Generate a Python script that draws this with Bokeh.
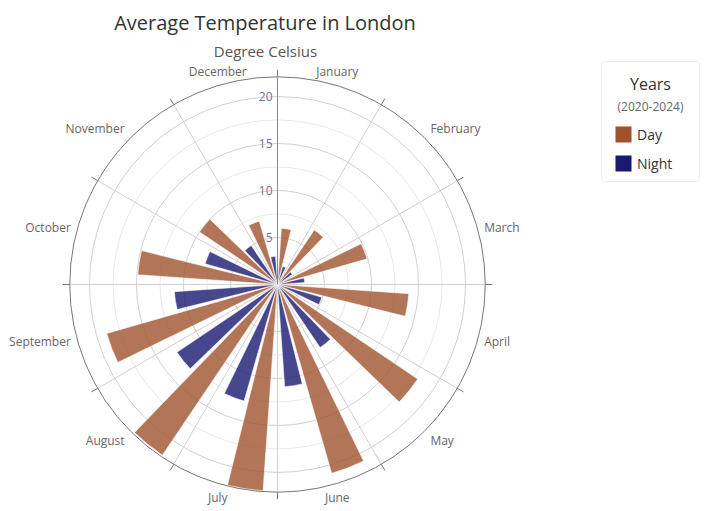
import numpy as np
from bokeh.plotting import figure
from bokeh.models import Range1d, Label, BoxAnnotation, Legend, LegendItem, ColumnDataSource
from bokeh.core.properties import value
from bokeh.embed import file_html
from bokeh.resources import INLINE

# ---------------- data ----------------
months = ["January", "February", "March", "April", "May", "June",
          "July", "August", "September", "October", "November", "December"]
day_temps = [6.0, 7.0, 9.9, 14.0, 18.0, 20.9, 22.0, 21.9, 18.9, 14.9, 10.0, 7.0]
night_temps = [2.0, 1.9, 2.9, 4.9, 8.1, 10.9, 12.9, 12.9, 11.0, 8.0, 5.0, 3.0]
radial_ticks = [5, 10, 15, 20]
radial_minor = [2.5, 7.5, 12.5, 17.5]
radial_max = 22.1
series_names = ["Day", "Night"]
series_colors = ["#a0522d", "#191970"]
chart_title = "Average Temperature in London"
chart_subtitle = "Degree Celsius"
legend_title = "Years"
legend_subtitle = "(2020-2024)"

# ---------------- layout ----------------
W, H = 710, 511
CX, CY = 277, 284          # centre of the polar area in pixels
S = 9.4                    # pixels per degree Celsius
FONT = "Open Sans"


def X(px):
    return (px - CX) / S


def Y(py):
    return (CY - py) / S


p = figure(width=W, height=H, output_backend="svg", toolbar_location=None,
           x_range=Range1d(X(0), X(W)), y_range=Range1d(Y(H), Y(0)),
           x_axis_type=None, y_axis_type=None, min_border=0,
           outline_line_color=None, background_fill_color="white",
           border_fill_color="white")
p.grid.visible = False

# grid circles
p.circle(x=[0] * len(radial_minor), y=[0] * len(radial_minor), radius=radial_minor,
         fill_color=None, line_color="#e8e8e8", line_width=1)
p.circle(x=[0] * len(radial_ticks), y=[0] * len(radial_ticks), radius=radial_ticks,
         fill_color=None, line_color="#d0d0d0", line_width=1)

# angular grid lines (every 30 degrees, clockwise from top)
n = len(months)
sector = 360.0 / n
edges = np.arange(n) * sector
rad = np.deg2rad(edges)
p.segment(x0=0, y0=0, x1=radial_max * np.sin(rad), y1=radial_max * np.cos(rad),
          line_color="#d0d0d0", line_width=1)

# bars
day_centre = edges + sector * 0.3
night_centre = edges + sector * 0.7
half = sector / 6.0
for vals, centres, col in [(day_temps, day_centre, series_colors[0]),
                           (night_temps, night_centre, series_colors[1])]:
    src = ColumnDataSource(dict(r=vals,
                                start=np.deg2rad(90 - (centres + half)),
                                end=np.deg2rad(90 - (centres - half))))
    p.wedge(x=0, y=0, radius="r", start_angle="start", end_angle="end",
            source=src, fill_color=col, fill_alpha=0.8,
            line_color="white", line_width=0.6, line_alpha=0.9)

# outer circle and ticks
p.circle(x=[0], y=[0], radius=[radial_max], fill_color=None, line_color="#777777", line_width=1)
tick_len = 7 / S
p.segment(x0=radial_max * np.sin(rad), y0=radial_max * np.cos(rad),
          x1=(radial_max + tick_len) * np.sin(rad), y1=(radial_max + tick_len) * np.cos(rad),
          line_color="#777777", line_width=1)
# radial axis line
p.segment(x0=[0], y0=[0], x1=[0], y1=[radial_max], line_color="#888888", line_width=1)

# radial tick labels
p.text(x=[X(CX - 5)] * len(radial_ticks), y=radial_ticks, text=[str(t) for t in radial_ticks],
       text_align="right", text_baseline="middle", text_font=value(FONT),
       text_font_size="12px", text_color="#6b7599")

# month labels
mid = np.deg2rad(edges + sector / 2)
sx, cy_ = np.sin(mid), np.cos(mid)
aligns = ["center" if abs(s) < 0.3 else ("left" if s > 0 else "right") for s in sx]
lab_x = radial_max * sx + (6 / S) * np.sign(sx)
lab_y = radial_max * cy_ + (13 / S) * cy_
src_m = ColumnDataSource(dict(x=lab_x, y=lab_y, t=months, a=aligns))
p.text(x="x", y="y", text="t", text_align="a", text_baseline="middle", source=src_m,
       text_font=value(FONT), text_font_size="12px", text_color="#666666")

# titles
p.add_layout(Label(x=X(264.5), y=Y(22), text=chart_title, text_align="center",
                   text_baseline="middle", text_font=FONT, text_font_size="20px",
                   text_color="#333333"))
p.add_layout(Label(x=X(265), y=Y(50), text=chart_subtitle, text_align="center",
                   text_baseline="middle", text_font=FONT, text_font_size="15px",
                   text_color="#555555"))

# legend box
p.add_layout(BoxAnnotation(left=X(601), right=X(699), top=Y(61), bottom=Y(181),
                           fill_color="white", fill_alpha=1, line_color="#cccccc",
                           line_width=1, border_radius=3, level="overlay"))
p.add_layout(Label(x=X(650), y=Y(83), text=legend_title, text_align="center",
                   text_baseline="middle", text_font=FONT, text_font_size="16px",
                   text_color="#333333", level="overlay"))
p.add_layout(Label(x=X(650), y=Y(106), text=legend_subtitle, text_align="center",
                   text_baseline="middle", text_font=FONT, text_font_size="12px",
                   text_color="#666666", level="overlay"))
# legend swatches
for i, c in enumerate(series_colors):
    top = 126 + 29 * i
    p.add_layout(BoxAnnotation(left=X(615), right=X(631), top=Y(top), bottom=Y(top + 16),
                               fill_color=c, fill_alpha=1, line_color=None, level="overlay"))

dummy = [p.rect(x=[], y=[], width=1, height=1, fill_color=c, line_color=None) for c in series_colors]
legend = Legend(items=[LegendItem(label=nm, renderers=[r]) for nm, r in zip(series_names, dummy)],
                location=(613, H - 173), orientation="vertical",
                glyph_width=20, glyph_height=20, label_height=20, label_standoff=4,
                spacing=9, padding=0, margin=0, border_line_color=None,
                background_fill_alpha=0, label_text_font=FONT, label_text_font_size="14px",
                label_text_color="#333333", label_text_baseline="middle")
p.add_layout(legend)

open("out.html", "w").write(file_html(p, INLINE))
